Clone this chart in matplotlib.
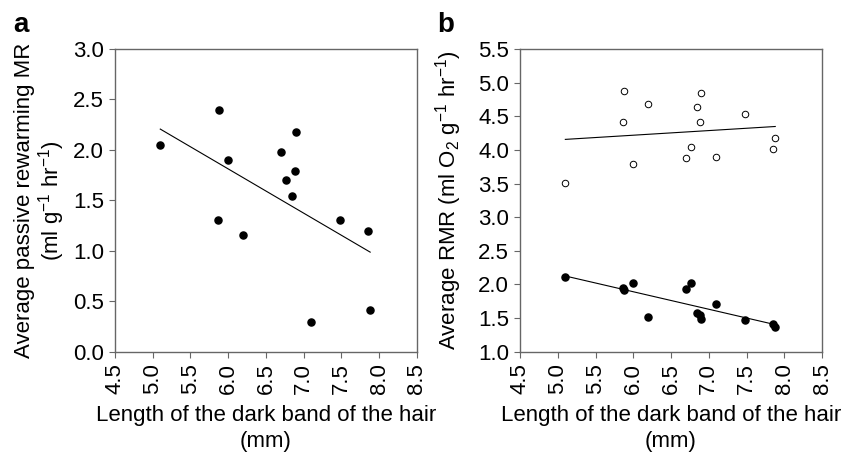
"""Hair dark band length vs passive rewarming MR and RMR — two-panel scatter."""
import matplotlib
matplotlib.use("Agg")
import matplotlib.pyplot as plt
import numpy as np

plt.rcParams.update({
    "font.family": ["Liberation Sans", "DejaVu Sans"],
    "mathtext.fontset": "custom",
    "mathtext.rm": "Liberation Sans",
    "mathtext.it": "Liberation Sans:italic",
    "mathtext.bf": "Liberation Sans:bold",
    "font.size": 16,
})

# dark band length (mm), same animals in both panels
band_len = [5.10, 5.88, 6.00, 5.86, 6.20, 6.70, 6.90, 6.88, 6.76, 6.85, 7.48, 7.85, 7.88, 7.10]

# panel a: average passive rewarming MR (ml g-1 hr-1)
rewarm_mr = [2.05, 2.40, 1.90, 1.31, 1.16, 1.98, 2.18, 1.79, 1.70, 1.54, 1.31, 1.20, 0.41, 0.29]

# panel b: average RMR (ml O2 g-1 hr-1), open and filled circles
rmr_open = [3.51, 4.87, 3.79, 4.41, 4.69, 3.88, 4.84, 4.41, 4.04, 4.64, 4.54, 4.02, 4.17, 3.90]
rmr_filled = [2.11, 1.91, 2.02, 1.95, 1.52, 1.93, 1.49, 1.54, 2.02, 1.58, 1.47, 1.41, 1.36, 1.71]

x_ticks = np.arange(4.5, 8.51, 0.5)
SPINE = "#666666"


def fit_line(ax, x, y):
    x = np.asarray(x)
    slope, icpt = np.polyfit(x, y, 1)
    xs = np.array([x.min(), x.max()])
    ax.plot(xs, slope * xs + icpt, color="black", lw=0.8, zorder=2)


def style(ax):
    for sp in ax.spines.values():
        sp.set_color(SPINE)
        sp.set_linewidth(1.0)
    ax.tick_params(direction="out", length=4, width=0.8, color=SPINE, pad=4)
    ax.set_xlim(4.5, 8.5)
    ax.set_xticks(x_ticks)
    ax.set_xticklabels([f"{v:.1f}" for v in x_ticks], rotation=90)
    ax.set_xlabel("Length of the dark band of the hair\n(mm)", labelpad=8,
                  linespacing=1.3)


fig = plt.figure(figsize=(8.46, 4.59), dpi=100)
ax_a = fig.add_axes([0.1359, 0.2338, 0.357, 0.6594])
ax_b = fig.add_axes([0.6147, 0.2338, 0.357, 0.6594])

# panel a
ax_a.scatter(band_len, rewarm_mr, s=26, color="black", zorder=3)
fit_line(ax_a, band_len, rewarm_mr)
style(ax_a)
ax_a.set_ylim(0, 3.0)
ax_a.set_yticks(np.arange(0, 3.01, 0.5))
ax_a.set_yticklabels([f"{v:.1f}" for v in np.arange(0, 3.01, 0.5)])
ax_a.set_ylabel("Average passive rewarming MR\n(ml g$^{-1}$ hr$^{-1}$)",
                labelpad=4, linespacing=1.05)

# panel b
ax_b.scatter(band_len, rmr_open, s=22, facecolor="white", edgecolor="black",
             linewidth=0.7, zorder=3)
ax_b.scatter(band_len, rmr_filled, s=26, color="black", zorder=3)
fit_line(ax_b, band_len, rmr_open)
fit_line(ax_b, band_len, rmr_filled)
style(ax_b)
ax_b.set_ylim(1.0, 5.5)
ax_b.set_yticks(np.arange(1.0, 5.51, 0.5))
ax_b.set_yticklabels([f"{v:.1f}" for v in np.arange(1.0, 5.51, 0.5)])
ax_b.set_ylabel("Average RMR (ml O$_2$ g$^{-1}$ hr$^{-1}$)", labelpad=10)

fig.text(0.016, 0.93, "a", fontsize=20, fontweight="bold")
fig.text(0.517, 0.93, "b", fontsize=20, fontweight="bold")

fig.savefig("out.png", dpi=100)
